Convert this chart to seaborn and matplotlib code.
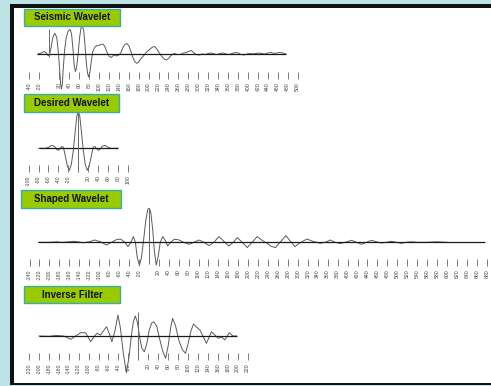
import matplotlib
matplotlib.use("Agg")
import matplotlib.pyplot as plt
from matplotlib.patches import Rectangle
import numpy as np
import seaborn as sns

W, H = 491, 386
PX_PER_UNIT = 0.497

# --- data (time in ms, amplitude in arbitrary units) ---
seis_t = [-23, -16, -10, -6, -2, 1, 4, 7, 11, 15, 17, 19, 21, 23, 24.6, 26.4, 28.4, 31, 34, 38,
          42, 45, 48, 50, 52.6, 55, 58, 61, 64, 67, 69.6, 72, 74.6, 77, 79.4, 82, 85, 88, 92, 96,
          102, 108, 112, 116, 120, 124, 128, 132, 136, 140, 144, 148, 152, 156, 160, 164, 168, 172,
          176, 180, 184, 190, 196, 202, 208, 212, 216, 221, 226, 231, 236, 241, 246, 252, 258, 264,
          270, 276, 282, 286, 290, 296, 302, 308, 314, 320, 326, 332, 338, 344, 350, 356, 362, 368,
          374, 380, 386, 392, 398, 404, 410, 416, 422, 428, 434, 440, 446, 452, 458, 464, 470, 476]
seis_amp = [0, 1, 2.5, 1, -1.7, 0, 7, 16, 20.7, 17, 9, -2, -16, -30, -35, -30, -14, 4, 16, 23,
            24.5, 20, 4, -10, -17.5, -14, -1, 16, 26, 28, 23, 9, -8, -19, -23, -18, -6, 3, 7, 8.5,
            9, 10, 7.5, 2, -2, -3.5, -2, -1, -2, -1, 1, 6, 9.5, 10.5, 8.5, 3, -3, -7.5,
            -9.3, -8, -5, -1.7, 2, 4.5, 7, 7.5, 5.5, 1.5, -2, -5, -6, -4, -1, 0.5, -0.5, -0.5,
            1, 1.5, 3, 3.5, 1.5, -0.5, -1, 0, -0.5, 0.5, 1, 0, -0.5, 0.5, 1, 0, -0.5, 0.5,
            1.5, 1, -0.5, -1, 0, 0.5, 0, 0.5, 1, 0.5, 0, 1, 1.5, 0.5, 1, 1.5, 1, 0]

des_t = [-80, -66, -60, -54, -48, -44, -40, -36, -33, -30, -26, -22, -18, -14, -10, -6, -3, 0,
         3, 6, 10, 14, 18, 22, 26, 30, 33, 36, 40, 44, 48, 54, 60, 66, 80]
des_amp = [0, 0, 1, 3, 2, -1, -2, 0, 2, 1, -8, -18, -22, -16, -2, 18, 32, 37,
           32, 18, -2, -16, -22, -18, -8, 1, 2, 0, -2, -1, 2, 3, 1, 0, 0]

shp_t = [-222, -200, -185, -175, -160, -152, -142, -132, -120, -109, -97, -85, -73, -64, -56,
         -48, -42, -36, -31, -27, -23, -19, -15, -11, -6, -2, 1, 4, 8, 11, 15, 19, 23, 28, 33,
         38, 44, 51, 60, 70, 81, 91, 101, 111, 121, 131, 141, 151, 161, 170, 178, 188, 198, 208,
         218, 228, 238, 246, 255, 264, 276, 285, 294, 303, 318, 330, 345, 355, 365, 375, 385, 395,
         408, 418, 428, 438, 448, 458, 468, 478, 488, 498, 508, 518, 528, 540, 560, 580, 600]
shp_amp = [0, 0, 0.5, 0, 0.5, 1, 0.5, -0.5, 0.5, 2.3, 0.5, -2.7, 0.5, 3, 3,
           0, -4.3, 0, 5.7, 0, -16, -22.7, -16, 0, 22, 33, 34, 30, 12, -8, -22.7, -14, 0, 5.7, 2,
           -3.7, 0, 3, 2.5, 0, -2, 0, 2.3, 0, -3.3, 0, 5.7, 1, -3.7, 0, 4.7, 0, -5.3, 0,
           5.7, 2, -1, -4, -5.3, 0, 6.7, 1, -4.3, -1, 3.3, 1, -1, 0, 2.3, 0, -1.3, 0,
           2, 0, -2, 0, 2, 0.5, -0.7, 0, 1, 0, -1, 0, 0.5, 0, 0, 0.5, 0]

inv_t = [-200, -180, -165, -150, -136, -126, -116, -106, -96, -88, -83, -76, -64, -58, -53, -47,
         -41, -36, -30, -24, -19, -14, -10, -6, -2, 3, 7, 12, 17, 22, 27, 31, 37, 43, 49, 55, 60,
         65, 69, 75, 82, 89, 95, 100, 106, 111, 117, 124, 131, 137, 142, 147, 154, 161, 168, 174,
         179, 183, 188, 191, 198]
inv_amp = [0, -0.3, 0.5, 0, -3.3, 0, 3.3, 3.3, -5.7, 0, 2.7, 1, 9.3, 2, -5.7, 5,
           21, 8, -18, -36.7, -22, 0, 14, 20, 14, -2, -12, -15.7, -8, 6, 13, 14.3, 10, -3, -15, -22.3, -10,
           8, 17.7, 10, -5, -14, -17.3, -8, 5, 12, 9, 6, -1, -7.3, -2, 4.3, 1, -2.3, -1, -4,
           0, 3.3, 1, 0, 0]

titles = ["Seismic Wavelet", "Desired Wavelet", "Shaped Wavelet", "Inverse Filter"]
tick_ranges = [(-40, 500), (-100, 100), (-240, 680), (-220, 220)]
baseline_spans = [(-24, 476), (-80, 80), (-222, 676), (-200, 198)]
zero_marks = [(-3, 25), (-24, 38), (-22, 34), (-24, 24)]

# --- layout (pixels in the 491x386 canvas) ---
ZERO_X = [49.2, 78.3, 148.8, 138.3]
BASE_Y = [54, 148.3, 242.3, 336]
TICK_TOP_Y = [72, 165, 259, 353]
AMP_TOP = [32, 40, 38, 40]
LABEL_BOXES = [(24, 9, 96, 17), (24, 94, 95, 18), (21, 190, 100, 18), (24, 286, 96, 17)]

BG = "#bde3e6"
GREEN = "#99cc00"
BOX_EDGE = "#3aacac"
WAVE = "#5a5a5a"


def fig_rect(x, y, w, h):
    return [x / W, 1 - (y + h) / H, w / W, h / H]


def draw_panel(fig, i, t, amp):
    lo, hi = tick_ranges[i]
    xmin, xmax = lo - 5, hi + 5
    left = ZERO_X[i] + xmin * PX_PER_UNIT
    width = (xmax - xmin) * PX_PER_UNIT
    top = BASE_Y[i] - AMP_TOP[i]
    height = TICK_TOP_Y[i] - top
    ax = fig.add_axes(fig_rect(left, top, width, height))
    ax.set_xlim(xmin, xmax)
    ax.set_ylim(-(TICK_TOP_Y[i] - BASE_Y[i]), AMP_TOP[i])

    sns.lineplot(x=np.array(t), y=np.array(amp), ax=ax, color=WAVE, linewidth=0.7,
                 estimator=None, sort=False)
    span = baseline_spans[i]
    ax.hlines(0, span[0], span[1], color="#1a1a1a", linewidth=0.9)
    ax.vlines(0, zero_marks[i][0], zero_marks[i][1], color="#6a6a6a", linewidth=0.7)
    for line in ax.lines:
        line.set_clip_on(False)
    for coll in ax.collections:
        coll.set_clip_on(False)

    ticks = [v for v in range(lo, hi + 1, 20) if v != 0]
    ax.set_xticks(ticks)
    ax.set_xticklabels([str(v) for v in ticks])
    ax.set_yticks([])
    ax.tick_params(axis="x", direction="out", length=5, width=0.6, color="#666666",
                   labelsize=3.7, labelcolor="#444444", labelrotation=90, pad=2.5,
                   bottom=True)
    for side in ax.spines.values():
        side.set_visible(False)
    ax.patch.set_alpha(0)
    ax.set_xlabel("")
    ax.set_ylabel("")

    bx, by, bw, bh = LABEL_BOXES[i]
    fig.add_artist(Rectangle(fig_rect(bx, by, bw, bh)[:2], bw / W, bh / H,
                             transform=fig.transFigure, facecolor=GREEN,
                             edgecolor=BOX_EDGE, linewidth=1.0, zorder=3))
    fig.text((bx + bw / 2) / W, 1 - (by + bh / 2) / H, titles[i], ha="center", va="center",
             fontsize=7, fontweight="bold", color="#111111", zorder=4)


def main() -> None:
    sns.set_theme(style="white")
    plt.rcParams["font.family"] = ["Liberation Sans", "DejaVu Sans"]

    fig = plt.figure(figsize=(W / 100, H / 100), dpi=100)
    fig.patch.set_facecolor(BG)
    fig.add_artist(Rectangle(fig_rect(10, 4, 490, 381)[:2], 490 / W, 381 / H,
                             transform=fig.transFigure, facecolor="#111111",
                             edgecolor="none", zorder=-2))
    fig.add_artist(Rectangle(fig_rect(14, 7.5, 490, 375.8)[:2], 490 / W, 375.8 / H,
                             transform=fig.transFigure, facecolor="white",
                             edgecolor="none", zorder=-1))

    for i, (t, amp) in enumerate([(seis_t, seis_amp), (des_t, des_amp),
                                  (shp_t, shp_amp), (inv_t, inv_amp)]):
        draw_panel(fig, i, t, amp)

    fig.savefig("out.png", dpi=100, facecolor=BG)
    plt.close(fig)


if __name__ == "__main__":
    main()
